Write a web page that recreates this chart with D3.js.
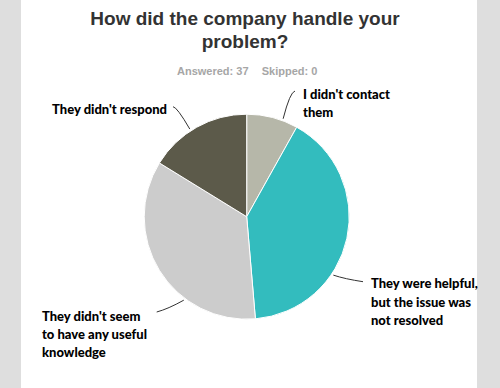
<!DOCTYPE html>
<html>
<head>
<meta charset="utf-8">
<script src="https://d3js.org/d3.v7.min.js"></script>
<style>
    body { margin: 0; background: #dedede; }
    svg { display: block; }
    .title { font-family: "Liberation Sans", Arial, sans-serif; font-weight: bold; font-size: 19px; fill: #333; }
    .meta { font-family: "Liberation Sans", Arial, sans-serif; font-weight: bold; font-size: 11px; fill: #a6a6a6; }
    .label { font-family: Lato, sans-serif; font-weight: 900; font-size: 13px; fill: #000; }
    .leader { fill: none; stroke: #333; stroke-width: 1; }
</style>
</head>
<body>
<svg id="chart" width="500" height="388"></svg>
<script>
// survey answers, clockwise from 12 o'clock
var answers = ["I didn't contact them",
               "They were helpful, but the issue was not resolved",
               "They didn't seem to have any useful knowledge",
               "They didn't respond"];
var counts = [3, 15, 13, 6];
var labelLines = [["I didn't contact", "them"],
                  ["They were helpful,", "but the issue was", "not resolved"],
                  ["They didn't seem", "to have any useful", "knowledge"],
                  ["They didn't respond"]];
var answered = 37, skipped = 0;
var titleLines = ["How did the company handle your", "problem?"];

var colors = ["#b6b7a9", "#33bcbe", "#cccccc", "#5c5a4a"];

var width = 500, height = 388;
var cx = 246.7, cy = 216.7, radius = 102.5;

// label placement (relative to the page): leader angle on the pie, elbow, end, text anchor
var labelLayout = [
    {angle: 20.4, elbow: [290, 92], end: [295, 91], x: 303, y: 99, anchor: "start"},
    {angle: 124, elbow: [345, 279], end: [363, 281.7], x: 371, y: 288.3, anchor: "start"},
    {angle: 217, elbow: [168, 309], end: [156.7, 312], x: 42, y: 320.7, anchor: "start"},
    {angle: 327, elbow: [177, 107], end: [173, 106.7], x: 167, y: 113.5, anchor: "end"}
];

var svg = d3.select("#chart");

svg.append("rect")
    .attr("x", 21).attr("y", 0)
    .attr("width", 456).attr("height", height)
    .attr("fill", "#fff");

// title
svg.append("text")
    .attr("class", "title")
    .attr("text-anchor", "middle")
    .selectAll("tspan")
    .data(titleLines)
    .enter().append("tspan")
    .attr("x", 245)
    .attr("y", function(d, i) { return 25 + i * 23.3; })
    .text(function(d) { return d; });

svg.append("text")
    .attr("class", "meta")
    .attr("x", 177).attr("y", 75.3)
    .text("Answered: " + answered);
svg.append("text")
    .attr("class", "meta")
    .attr("x", 261.7).attr("y", 75.3)
    .text("Skipped: " + skipped);

// pie
var pie = d3.pie().sort(null).value(function(d) { return d; });
var arc = d3.arc().innerRadius(0).outerRadius(radius);

var g = svg.append("g").attr("transform", "translate(" + cx + "," + cy + ")");

g.selectAll("path")
    .data(pie(counts))
    .enter().append("path")
    .attr("d", arc)
    .attr("fill", function(d, i) { return colors[i]; })
    .attr("stroke", "#fff")
    .attr("stroke-width", 1);

// leader lines
labelLayout.forEach(function(l, i) {
    var p = d3.pointRadial(l.angle * Math.PI / 180, radius + 2);
    var path = d3.path();
    path.moveTo(cx + p[0], cy + p[1]);
    path.quadraticCurveTo(l.elbow[0], l.elbow[1], l.end[0], l.end[1]);
    svg.append("path").attr("class", "leader").attr("d", path.toString());

    svg.append("text")
        .attr("class", "label")
        .attr("text-anchor", l.anchor)
        .selectAll("tspan")
        .data(labelLines[i])
        .enter().append("tspan")
        .attr("x", l.x)
        .attr("y", function(d, j) { return l.y + j * 18.3; })
        .text(function(d) { return d; });
});
</script>
</body>
</html>
